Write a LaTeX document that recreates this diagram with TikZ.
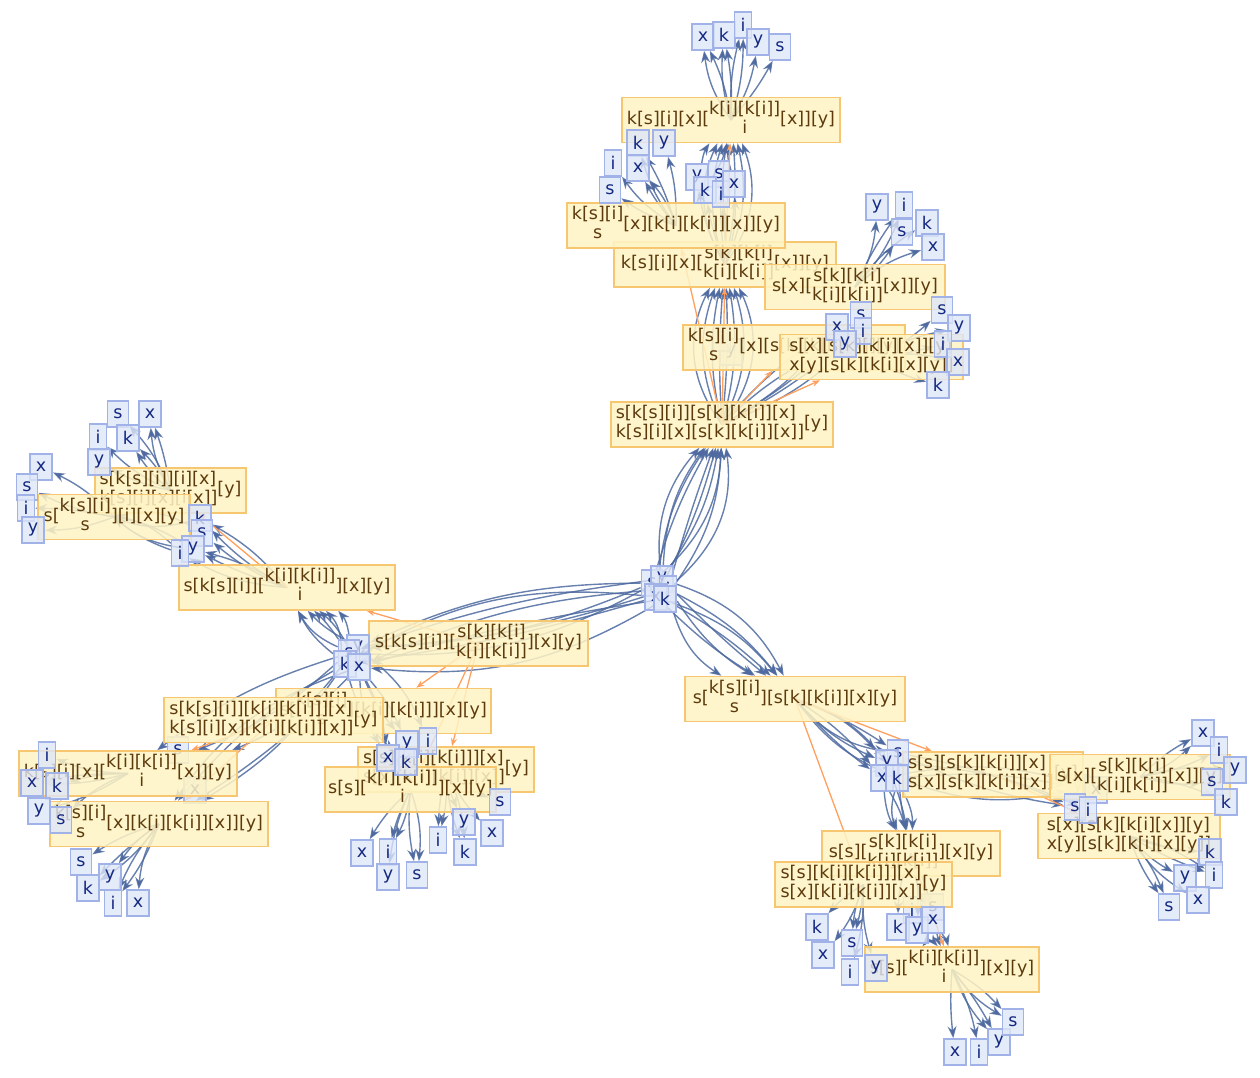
\documentclass[tikz,border=0pt]{standalone}
\usepackage{fontspec}
\setmainfont{DejaVu Sans}
\usetikzlibrary{arrows.meta}
\pgfdeclarelayer{bg}
\pgfsetlayers{bg,main}
\definecolor{ybf}{RGB}{255,244,196}
\definecolor{ybd}{RGB}{247,198,112}
\definecolor{ybt}{RGB}{92,58,12}
\definecolor{lff}{RGB}{222,230,248}
\definecolor{lfd}{RGB}{160,178,232}
\definecolor{lft}{RGB}{20,40,130}
\definecolor{edc}{RGB}{78,106,160}
\definecolor{orc}{RGB}{255,160,95}
\newcommand{\stk}[2]{\begin{tabular}{@{}c@{}}#1\\#2\end{tabular}}
\newcommand{\two}[3]{\begin{tabular}{@{}l@{}}#1\\#2\end{tabular}#3}
\newcommand{\bdl}[3]{\foreach \bb in {#3}{\draw[ed] (#1) to[bend left=\bb] (#2);}}
\begin{document}
\begin{tikzpicture}[x=1pt,y=-1pt,
 yb/.style={draw=ybd,fill=ybf,fill opacity=0.85,text opacity=1,text=ybt,line width=1.6pt,inner xsep=3pt,inner ysep=2pt,minimum height=45pt,font=\fontsize{17.5}{19}\selectfont},
 lf/.style={draw=lfd,fill=lff,fill opacity=0.8,text opacity=1,text=lft,line width=1.6pt,inner xsep=6pt,inner ysep=0pt,minimum height=26pt,font=\fontsize{17.5}{19}\selectfont},
 ed/.style={draw=edc,draw opacity=0.85,line width=1.4pt,-{Stealth[length=12pt,width=9pt]}},
 oe/.style={draw=orc,line width=1.3pt,-{Stealth[length=8pt,width=6pt]}}]
\useasboundingbox (0,0) rectangle (1260,1078);
% hidden leaves (under boxes)
\node[lf] (h1) at (731,352) {y};
\node[lf] (h2) at (722,338) {i};
\node[lf] (c6y) at (1078,788) {y};
\node[lf] (c6x) at (1096,790) {x};
\node[lf] (c4s) at (178,750) {s};
\node[lf] (c4x) at (195,790) {x};
\node[lf] (b1i) at (912,910) {i};
\node[lf] (b1s) at (933,907) {s};
% expression boxes
\node[yb,minimum width=222pt] (Y3) at (725,264.5) {k[s][i][x][\stk{s[k][k[i]}{k[i][k[i]]}[x]][y]};
\node[yb,minimum width=218pt] (Y2) at (676,225.5) {\stk{k[s][i]}{s}[x][k[i][k[i]][x]][y]};
\node[yb,minimum width=218pt] (Y1) at (731,120) {k[s][i][x][\stk{k[i][k[i]]}{i}[x]][y]};
\node[yb,minimum width=180pt] (Y4) at (855,287) {s[x][\stk{s[k][k[i]}{k[i][k[i]]}[x]][y]};
\node[yb,minimum width=222pt] (Y5) at (794,347.5) {\stk{k[s][i]}{s}[x][s[k][k[i]][x]][y]};
\node[yb,minimum width=183pt] (Y6) at (871.5,357) {\two{s[x][s[k][k[i][x]][y]}{x[y][s[k][k[i][x][y]]}{}};
\node[yb,minimum width=222pt] (Y7) at (722,424.5) {\two{s[k[s][i]][s[k][k[i]][x]}{k[s][i][x][s[k][k[i]][x]]}{[y]}};
\node[yb,minimum width=151pt] (Y8) at (170.5,490.5) {\two{s[k[s][i]][i][x]}{k[s][i][x][i[x]]}{[y]}};
\node[yb,minimum width=152pt] (Y9) at (114,517) {s[\stk{k[s][i]}{s}][i][x][y]};
\node[yb,minimum width=216pt] (Y10) at (287,587.5) {s[k[s][i]][\stk{k[i][k[i]]}{i}][x][y]};
\node[yb,minimum width=219pt] (Y11) at (478.5,643.5) {s[k[s][i]][\stk{s[k][k[i]}{k[i][k[i]]}][x][y]};
\node[yb,minimum width=215pt] (Y12) at (383.5,711) {s[\stk{k[s][i]}{s}][k[i][k[i]]][x][y]};
\node[yb,minimum width=219pt] (Y13) at (273.5,720) {\two{s[k[s][i]][k[i][k[i]]][x]}{k[s][i][x][k[i][k[i]][x]]}{[y]}};
\node[yb,minimum width=218pt] (Y14) at (128,773.5) {k[s][i][x][\stk{k[i][k[i]]}{i}[x]][y]};
\node[yb,minimum width=218pt] (Y15) at (159,824) {\stk{k[s][i]}{s}[x][k[i][k[i]][x]][y]};
\node[yb,minimum width=176pt] (Y16) at (446,769.5) {\two{s[s][k[i][k[i]]][x]}{s[x][k[i][k[i]][x]]}{[y]}};
\node[yb,minimum width=167pt] (Y17) at (410.5,789.5) {s[s][\stk{k[i][k[i]]}{i}][x][y]};
\node[yb,minimum width=220pt] (Y18) at (795,699) {s[\stk{k[s][i]}{s}][s[k][k[i]][x][y]};
\node[yb,minimum width=180pt] (Y19) at (993,774.5) {\two{s[s][s[k][k[i]][x]}{s[x][s[k][k[i]][x]]}{[y]}};
\node[yb,minimum width=180pt] (Y20) at (1140,777) {s[x][\stk{s[k][k[i]}{k[i][k[i]]}[x]][y]};
\node[yb,minimum width=182pt] (Y21) at (1129,836) {\two{s[x][s[k][k[i][x]][y]}{x[y][s[k][k[i][x][y]]}{}};
\node[yb,minimum width=178pt] (Y22) at (911,853.5) {s[s][\stk{s[k][k[i]}{k[i][k[i]]}][x][y]};
\node[yb,minimum width=177pt] (Y23) at (863.5,884.5) {\two{s[s][k[i][k[i]]][x]}{s[x][k[i][k[i]][x]]}{[y]}};
\node[yb,minimum width=174pt] (Y24) at (952,969.5) {s[s][\stk{k[i][k[i]]}{i}][x][y]};
% leaves
\node[lf] (t1) at (703,37) {x};
\node[lf] (t2) at (724,35) {k};
\node[lf] (t3) at (743,25) {i};
\node[lf] (t4) at (758,42) {y};
\node[lf] (t5) at (780,47) {s};
\node[lf] (a1) at (638,143) {k};
\node[lf] (a2) at (664,143) {y};
\node[lf] (a3) at (613,163) {i};
\node[lf] (a4) at (638,168) {x};
\node[lf] (a5) at (610,190) {s};
\node[lf] (b1) at (697,177) {y};
\node[lf] (b2) at (719,174) {s};
\node[lf] (b3) at (705,190) {k};
\node[lf] (b4) at (721,194) {i};
\node[lf] (b5) at (734,184) {x};
\node[lf] (r1) at (877,207) {y};
\node[lf] (r2) at (904,205) {i};
\node[lf] (r3) at (902,232) {s};
\node[lf] (r4) at (927,223) {k};
\node[lf] (r5) at (933,247) {x};
\node[lf] (q1) at (942,310) {s};
\node[lf] (q2) at (959,328) {y};
\node[lf] (q3) at (943,344) {i};
\node[lf] (q4) at (958,362) {x};
\node[lf] (q5) at (938,385) {k};
\node[lf] (c3s) at (861,315) {s};
\node[lf] (c3x) at (837,327) {x};
\node[lf] (c3i) at (863,331) {i};
\node[lf] (c3y) at (845,344) {y};
\node[lf] (l2s) at (118,414) {s};
\node[lf] (l2x) at (150,414) {x};
\node[lf] (l2i) at (98,437) {i};
\node[lf] (l2k) at (128,438) {k};
\node[lf] (l2y) at (99,462) {y};
\node[lf] (l3x) at (41,467) {x};
\node[lf] (l3s) at (27,487) {s};
\node[lf] (l3i) at (26,508) {i};
\node[lf] (l3y) at (33,530) {y};
\node[lf] (l1k) at (200,518) {k};
\node[lf] (l1s) at (202,533) {s};
\node[lf] (l1y) at (193,549) {y};
\node[lf] (l1i) at (180,553) {i};
\node[lf] (c1y) at (358,648) {y};
\node[lf] (c1s) at (349,653) {s};
\node[lf] (c1k) at (345,664) {k};
\node[lf] (c1x) at (359,667) {x};
\node[lf] (c0s) at (652,583) {s};
\node[lf] (c0y) at (662,579) {y};
\node[lf] (c0i) at (668,589) {i};
\node[lf] (c0x) at (656,597) {x};
\node[lf] (c0k) at (665,599) {k};
\node[lf] (l5i) at (47,755) {i};
\node[lf] (l5x) at (32,783) {x};
\node[lf] (l5k) at (57,786) {k};
\node[lf] (l5y) at (39,811) {y};
\node[lf] (l5s) at (61,820) {s};
\node[lf] (l6s) at (81,862) {s};
\node[lf] (l6k) at (88,888) {k};
\node[lf] (l6y) at (110,877) {y};
\node[lf] (l6i) at (113,903) {i};
\node[lf] (l6x) at (138,903) {x};
\node[lf] (c5y) at (407,744) {y};
\node[lf] (c5i) at (428,741) {i};
\node[lf] (c5x) at (388,758) {x};
\node[lf] (c5k) at (406,762) {k};
\node[lf] (l7x) at (362,853) {x};
\node[lf] (l7i) at (388,852) {i};
\node[lf] (l7y) at (388,877) {y};
\node[lf] (l7s) at (417,875) {s};
\node[lf] (l8i) at (438,840) {i};
\node[lf] (l8y) at (464,822) {y};
\node[lf] (l8k) at (465,852) {k};
\node[lf] (l8x) at (492,833) {x};
\node[lf] (l8s) at (500,802) {s};
\node[lf] (c2s) at (898,753) {s};
\node[lf] (c2y) at (887,763) {y};
\node[lf] (c2x) at (882,778) {x};
\node[lf] (c2k) at (897,778) {k};
\node[lf] (c6s) at (1075,807) {s};
\node[lf] (c6i) at (1088,810) {i};
\node[lf] (r3x) at (1203,733) {x};
\node[lf] (r3i) at (1219,750) {i};
\node[lf] (r3y) at (1235,770) {y};
\node[lf] (r3s) at (1212,782) {s};
\node[lf] (r3k) at (1226,802) {k};
\node[lf] (r4k) at (1210,852) {k};
\node[lf] (r4i) at (1214,875) {i};
\node[lf] (r4y) at (1185,878) {y};
\node[lf] (r4s) at (1169,907) {s};
\node[lf] (r4x) at (1198,900) {x};
\node[lf] (b1k) at (898,927) {k};
\node[lf] (b1y) at (917,930) {y};
\node[lf] (b1x) at (933,920) {x};
\node[lf] (b2k) at (817,927) {k};
\node[lf] (b2x) at (823,955) {x};
\node[lf] (b2s) at (852,943) {s};
\node[lf] (b2i) at (850,972) {i};
\node[lf] (b2y) at (876,968) {y};
\node[lf] (b3x) at (955,1052) {x};
\node[lf] (b3i) at (979,1052) {i};
\node[lf] (b3y) at (999,1042) {y};
\node[lf] (b3s) at (1013,1022) {s};
% connectors
\begin{pgfonlayer}{bg}
\fill[white] (0,0) rectangle (1260,1078);
% top region
\bdl{Y1.center}{t1}{14,-8}
\bdl{Y1.center}{t2}{10,-6}
\bdl{Y1.center}{t3}{-8,8}
\bdl{Y1.center}{t4}{-10}
\bdl{Y1.center}{t5}{-6}
\bdl{Y2.center}{a1}{10,-6}
\bdl{Y2.center}{a2}{-8}
\bdl{Y2.center}{a3}{12}
\bdl{Y2.center}{a4}{6,-10}
\bdl{Y2.center}{a5}{8}
\bdl{Y3.center}{b1}{10}
\bdl{Y3.center}{b2}{-6}
\bdl{Y3.center}{b3}{5}
\bdl{Y3.center}{b4}{-4}
\bdl{Y3.center}{b5}{-10}
\bdl{Y3.center}{Y1}{-28,-18,-8,8,18,28}
\bdl{b1}{Y1}{12}
\bdl{b3}{Y1}{-10}
\bdl{b5}{Y1}{10}
\bdl{Y7.center}{Y3}{-32,-22,-12,-4,4,12,22,32}
\bdl{Y7.center}{c3x}{-10,8}
\bdl{Y7.center}{c3s}{-8}
\bdl{Y7.center}{c3i}{-12}
\bdl{Y7.center}{c3y}{-5,10}
\bdl{Y4.center}{r1}{-12}
\bdl{Y4.center}{r2}{-10,5}
\bdl{Y4.center}{r3}{-8}
\bdl{Y4.center}{r4}{10}
\bdl{Y4.center}{r5}{12}
\bdl{Y6.center}{q1}{-10}
\bdl{Y6.center}{q2}{8}
\bdl{Y6.center}{q3}{-5}
\bdl{Y6.center}{q4}{10}
\bdl{Y6.center}{q5}{-8}
% centre to Y7
\bdl{c0s}{Y7}{-22,6}
\bdl{c0y}{Y7}{-12,16}
\bdl{c0i}{Y7}{-28,2}
\bdl{c0x}{Y7}{14,-6}
\bdl{c0k}{Y7}{26,-16}
% left region
\bdl{c0s}{c1y}{10,-12}
\bdl{c0y}{c1s}{16,-6}
\bdl{c0x}{c1k}{4,-18}
\bdl{c0k}{c1x}{-4,18}
\bdl{c0i}{c1y}{7}
\bdl{c0i}{c1x}{-10}
\bdl{c1y}{Y10}{-16,8}
\bdl{c1s}{Y10}{-6,18}
\bdl{c1k}{Y10}{12,-22}
\bdl{c1x}{Y10}{-12}
\bdl{Y10.center}{l1k}{-10,8}
\bdl{Y10.center}{l1s}{8}
\bdl{Y10.center}{l1y}{-8,5}
\bdl{Y10.center}{l1i}{12}
\bdl{l1i}{Y9.center}{-18,10}
\bdl{l1y}{Y9.center}{-10,16}
\bdl{l1s}{Y9.center}{-22}
\bdl{l1k}{Y9.center}{18}
\bdl{Y8.center}{l2s}{-10}
\bdl{Y8.center}{l2x}{12,-5}
\bdl{Y8.center}{l2i}{10}
\bdl{Y8.center}{l2k}{-8,8}
\bdl{Y8.center}{l2y}{8}
\bdl{Y9.center}{l3x}{-10}
\bdl{Y9.center}{l3s}{8}
\bdl{Y9.center}{l3i}{-5}
\bdl{Y9.center}{l3y}{10}
\bdl{c1k}{Y15}{-10,12}
\bdl{c1x}{Y15}{-18,6}
\bdl{c1s}{Y14}{10,-10}
\bdl{c1y}{Y14}{16}
\bdl{c1x}{c5x}{-14,10}
\bdl{c1x}{c5y}{8,-8}
\bdl{c1k}{c5k}{-16}
\bdl{c1y}{c5i}{14}
\bdl{Y14.center}{l5i}{10}
\bdl{Y14.center}{l5x}{-5,8}
\bdl{Y14.center}{l5k}{-8}
\bdl{Y14.center}{l5y}{8}
\bdl{Y14.center}{l5s}{-10}
\bdl{Y15.center}{l6s}{-8}
\bdl{Y15.center}{l6k}{10,-5}
\bdl{Y15.center}{l6y}{-10}
\bdl{Y15.center}{l6i}{8,-8}
\bdl{Y15.center}{l6x}{-12}
\bdl{Y17.center}{l7x}{-8}
\bdl{Y17.center}{l7i}{10,-5}
\bdl{Y17.center}{l7y}{-8}
\bdl{Y17.center}{l7s}{12,-8}
\bdl{Y16.center}{l8i}{8,-5}
\bdl{Y16.center}{l8y}{-8}
\bdl{Y16.center}{l8k}{10,-8}
\bdl{Y16.center}{l8x}{-8}
\bdl{Y16.center}{l8s}{-10}
% right region
\bdl{c0i}{Y18}{-12,12}
\bdl{c0k}{Y18}{-20,6}
\bdl{c0x}{Y18}{16,-6}
\bdl{c0y}{Y18}{-3,22}
\bdl{Y18.center}{c2y}{-12,14}
\bdl{Y18.center}{c2s}{-20,6}
\bdl{Y18.center}{c2x}{8,-6}
\bdl{Y18.center}{c2k}{18,-14}
\bdl{c2x}{Y22}{-12,8}
\bdl{c2k}{Y22}{-20,14}
\bdl{c2y}{Y22}{5}
\bdl{c2s}{Y22}{-5}
\bdl{c2s}{c6s}{-8,6}
\bdl{c2y}{c6i}{10}
\bdl{c2k}{c6y}{-16,8}
\bdl{c2x}{c6x}{14}
\bdl{Y20.center}{r3x}{-12,8}
\bdl{Y20.center}{r3i}{-8}
\bdl{Y20.center}{r3y}{10}
\bdl{Y20.center}{r3s}{-10}
\bdl{Y20.center}{r3k}{8}
\bdl{Y21.center}{r4k}{-8}
\bdl{Y21.center}{r4i}{10,-5}
\bdl{Y21.center}{r4y}{-10}
\bdl{Y21.center}{r4s}{8,-8}
\bdl{Y21.center}{r4x}{-12}
\bdl{Y23.center}{b2k}{-8}
\bdl{Y23.center}{b2x}{10}
\bdl{Y23.center}{b2s}{-8,5}
\bdl{Y23.center}{b2i}{8}
\bdl{Y23.center}{b2y}{-10}
\bdl{Y22.center}{b1k}{-10}
\bdl{Y22.center}{b1y}{8}
\bdl{Y22.center}{b1x}{-8,8}
\bdl{b1y}{Y24}{-10,10}
\bdl{b1x}{Y24}{-5,12}
\bdl{Y24.center}{b3x}{-5}
\bdl{Y24.center}{b3i}{8}
\bdl{Y24.center}{b3y}{-10,5}
\bdl{Y24.center}{b3s}{-12,8}
% evaluation steps
\draw[oe] (Y7.center) -- (Y2);
\draw[oe] (Y7.center) -- (Y3);
\draw[oe] (Y7.center) -- (Y5);
\draw[oe] (Y7.center) -- (Y6);
\draw[oe] (Y3.center) -- (Y1);
\draw[oe] (Y11.center) -- (Y10);
\draw[oe] (Y10.center) -- (Y8);
\draw[oe] (Y11.center) -- (Y12);
\draw[oe] (Y11.center) -- (Y16);
\draw[oe] (Y11.center) -- (Y17);
\draw[oe] (Y13.center) -- (Y14);
\draw[oe] (Y13.center) -- (Y15);
\draw[oe] (Y18.center) -- (Y19);
\draw[oe] (Y18.center) -- (Y23);
\draw[oe] (Y19.center) -- (Y21);
\draw[oe] (Y22.center) -- (Y24);
\end{pgfonlayer}
\end{tikzpicture}
\end{document}
